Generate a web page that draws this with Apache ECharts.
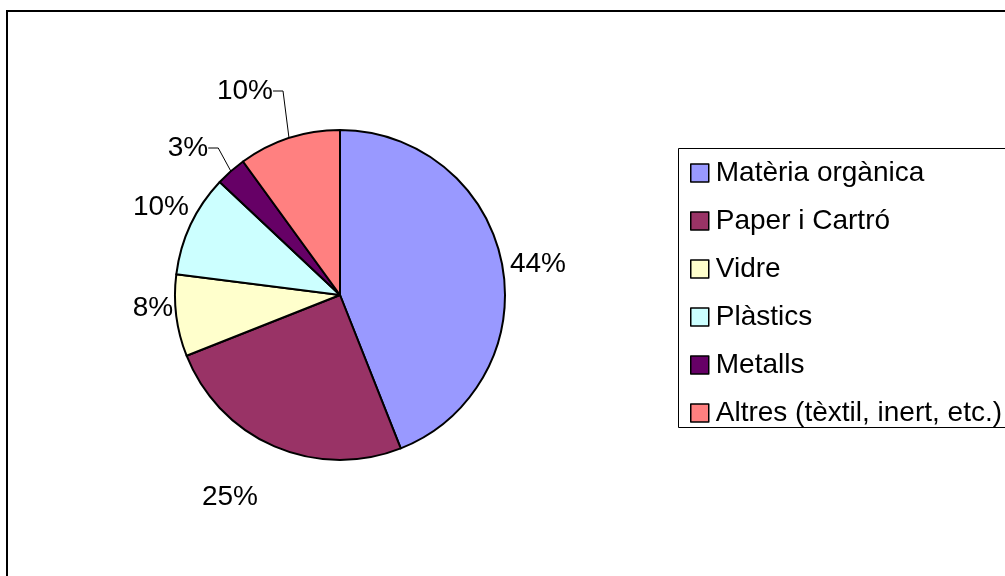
<!DOCTYPE html>
<html>
<head>
<meta charset="utf-8">
<script src="https://cdn.jsdelivr.net/npm/echarts@6/dist/echarts.min.js"></script>
<style>html,body{margin:0;padding:0;background:#fff;}#c{width:1005px;height:576px;}</style>
</head>
<body>
<div id="c"></div>
<script>
const categories = ['Matèria orgànica', 'Paper i Cartró', 'Vidre', 'Plàstics', 'Metalls', 'Altres (tèxtil, inert, etc.)'];
const values = [44, 25, 8, 10, 3, 10];
const colors = ['#9999FF', '#993366', '#FFFFCC', '#CCFFFF', '#660066', '#FF8080'];
// label centers (layout only)
const labelPos = [[538, 264], [230, 497], [153, 308], [161, 207], [188, 148], [245, 91]];
const labelLineOn = [false, false, false, false, true, true];

const FONT = '"Liberation Sans", Arial, sans-serif';
const chart = echarts.init(document.getElementById('c'), null, {renderer: 'canvas'});
chart.setOption({
  animation: false,
  backgroundColor: '#fff',
  color: colors,
  graphic: [
    {type: 'rect', shape: {x: 7, y: 11, width: 1200, height: 800}, style: {fill: 'none', stroke: '#000', lineWidth: 2}, z: 0},
    {type: 'rect', shape: {x: 678.5, y: 148.5, width: 400, height: 279}, style: {fill: 'none', stroke: '#000', lineWidth: 1}, z: 0}
  ],
  legend: {
    orient: 'vertical',
    left: 690,
    top: 158,
    padding: 0,
    itemWidth: 18,
    itemHeight: 18,
    itemGap: 18,
    icon: 'rect',
    itemStyle: {borderColor: '#000', borderWidth: 1.5},
    textStyle: {fontFamily: FONT, fontSize: 28, color: '#000', lineHeight: 30, padding: [0, 0, 0, 2]},
    data: categories
  },
  series: [{
    type: 'pie',
    center: [340, 295],
    radius: 165,
    startAngle: 90,
    clockwise: true,
    avoidLabelOverlap: false,
    itemStyle: {borderColor: '#000', borderWidth: 2},
    emphasis: {disabled: true},
    label: {
      show: true,
      position: 'outside',
      formatter: '{d}%',
      fontFamily: FONT,
      fontSize: 28,
      color: '#000'
    },
    labelLine: {show: false, length: 5, length2: 10, lineStyle: {color: '#000', width: 1}},
    labelLayout: function (p) {
      const pos = labelPos[p.dataIndex];
      return {x: pos[0], y: pos[1], align: 'center', verticalAlign: 'middle'};
    },
    data: categories.map((n, i) => ({
      name: n,
      value: values[i],
      labelLine: {show: labelLineOn[i]}
    }))
  }]
});
</script>
</body>
</html>
